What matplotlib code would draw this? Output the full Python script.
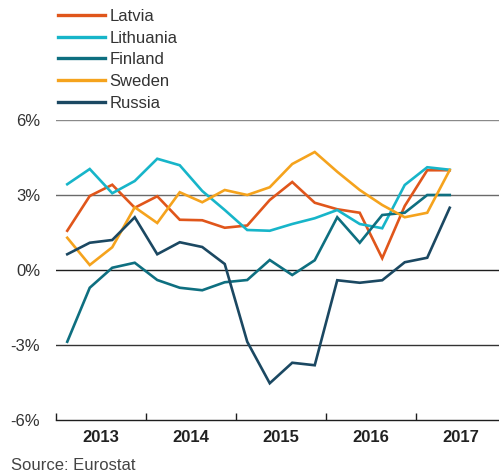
import matplotlib.pyplot as plt

plt.rcParams['font.family'] = ['Liberation Sans', 'DejaVu Sans']

# quarterly values, 2013 Q1 .. 2017 Q2
years = ['2013', '2014', '2015', '2016', '2017']
quarters = list(range(18))

latvia = [1.57, 2.96, 3.41, 2.49, 2.95, 2.01, 1.99, 1.69, 1.78,
          2.8, 3.52, 2.69, 2.43, 2.29, 0.47, 2.56, 3.99, 3.99]
lithuania = [3.43, 4.04, 3.07, 3.56, 4.45, 4.19, 3.16, 2.4, 1.6,
             1.57, 1.84, 2.07, 2.4, 1.84, 1.67, 3.4, 4.11, 4.01]
finland = [-2.87, -0.71, 0.09, 0.29, -0.4, -0.71, -0.81, -0.49, -0.4,
           0.4, -0.2, 0.39, 2.11, 1.09, 2.2, 2.29, 3.0, 3.0]
sweden = [1.29, 0.2, 0.91, 2.51, 1.88, 3.11, 2.71, 3.2, 3.0,
          3.31, 4.24, 4.72, 3.93, 3.2, 2.6, 2.11, 2.29, 4.0]
russia = [0.63, 1.09, 1.2, 2.11, 0.63, 1.11, 0.92, 0.24, -2.87,
          -4.53, -3.71, -3.81, -0.41, -0.51, -0.41, 0.31, 0.49, 2.49]

series = [
    ('Latvia', latvia, '#e0561b'),
    ('Lithuania', lithuania, '#17b5c9'),
    ('Finland', finland, '#0e6f80'),
    ('Sweden', sweden, '#f5a31d'),
    ('Russia', russia, '#1b4862'),
]

yticks = [6, 3, 0, -3, -6]
grid_colors = {6: '#8a8a8a', 3: '#6a6a6a', 0: '#1e1e1e', -3: '#333333'}

fig = plt.figure(figsize=(4.99, 4.76), dpi=100)
ax = fig.add_axes([56 / 499, 56 / 476, 443 / 499, 300 / 476])

for y, c in grid_colors.items():
    ax.axhline(y, color=c, lw=1.0, zorder=1)

for name, vals, color in series:
    ax.plot(quarters, vals, color=color, lw=1.9, label=name, zorder=3,
            solid_joinstyle='miter')

ax.set_xlim(-0.5, 19.19)
ax.set_ylim(-6, 6)

for s in ['top', 'right', 'left']:
    ax.spines[s].set_visible(False)
ax.spines['bottom'].set_color('#1e1e1e')
ax.spines['bottom'].set_linewidth(1.0)

ax.set_yticks(yticks)
ax.set_yticklabels([f'{v}%' for v in yticks], fontsize=12, color='#333333')
ax.tick_params(axis='y', length=0, pad=11.5)

ax.set_xticks([-0.5 + 4 * i for i in range(5)])
ax.set_xticklabels([])
ax.tick_params(axis='x', which='major', direction='in', length=5,
               width=1.0, color='#1e1e1e')
ax.set_xticks([1.5 + 4 * i for i in range(5)], minor=True)
ax.set_xticklabels(years, minor=True, fontsize=12, fontweight='bold',
                   color='#222222')
ax.tick_params(axis='x', which='minor', length=0, pad=7)

leg = fig.legend(loc='upper left', bbox_to_anchor=(58 / 499, 1 - 9 / 476),
                 frameon=False, fontsize=12, handlelength=2.8,
                 handletextpad=0.3, labelspacing=0.4, borderpad=0,
                 borderaxespad=0)
for t in leg.get_texts():
    t.set_color('#333333')
for h in leg.legend_handles:
    h.set_linewidth(2.4)

fig.text(11 / 499, 1 - 466 / 476, 'Source: Eurostat', fontsize=12,
         color='#444444', va='center', ha='left')

fig.savefig('out.png', dpi=100)
